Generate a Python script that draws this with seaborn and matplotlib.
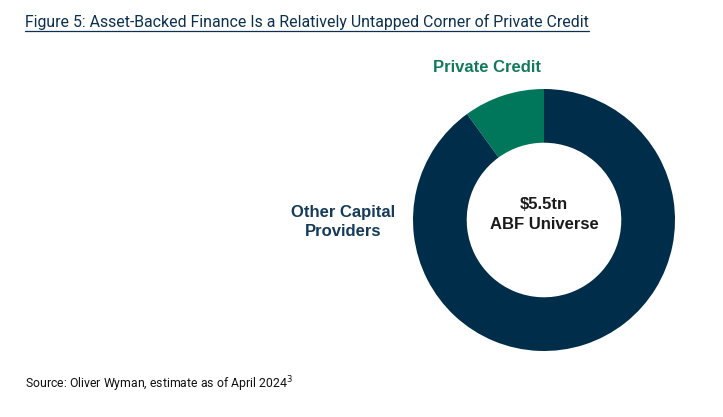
import matplotlib
matplotlib.use("Agg")
import matplotlib.pyplot as plt
import seaborn as sns
from matplotlib.lines import Line2D

# data
segments = ["Private Credit", "Other Capital\nProviders"]
shares = [10, 90]
seg_colors = ["#00765A", "#002D4A"]
label_colors = ["#127A5C", "#153A5A"]
center_text = "$5.5tn\nABF Universe"
title = "Figure 5: Asset-Backed Finance Is a Relatively Untapped Corner of Private Credit"
source = "Source: Oliver Wyman, estimate as of April 2024$^{3}$"

sns.set_theme(style="white")
plt.rcParams['font.family'] = ['Liberation Sans', 'DejaVu Sans']

W, H = 723, 417
fig = plt.figure(figsize=(W / 100, H / 100), dpi=100)
fig.patch.set_facecolor("white")

# donut centre (544, 220) px, outer radius 131 px
cx, cy, r = 544, 220, 131
ax = fig.add_axes([(cx - r) / W, (H - cy - r) / H, 2 * r / W, 2 * r / H])
wedges, _ = ax.pie(shares, colors=seg_colors, startangle=90, counterclock=True,
                   radius=1, wedgeprops=dict(width=0.41, edgecolor="none"))
ax.set_xlim(-1, 1)
ax.set_ylim(-1, 1)
ax.set_aspect("equal")
ax.axis("off")

ax.text(0, 0.04, center_text, ha="center", va="center", fontsize=12,
        fontweight="bold", color="#1A1A1A", linespacing=1.4)

# segment labels
fig.text(487 / W, 1 - 68 / H, segments[0], ha="center", va="center",
         fontsize=12, fontweight="bold", color=label_colors[0])
fig.text(343 / W, 1 - 222 / H, segments[1], ha="center", va="center",
         fontsize=12, fontweight="bold", color=label_colors[1], linespacing=1.35)

# title with underline
t = fig.text(25 / W, 1 - 22 / H, title, ha="left", va="center", fontsize=11.4,
             color="#0B3050", family=["Roboto", "DejaVu Sans"])
fig.canvas.draw()
bb = t.get_window_extent()
y_line = (bb.y0 - 1) / H
fig.add_artist(Line2D([bb.x0 / W, bb.x1 / W], [y_line, y_line], color="#0B3050",
                      linewidth=0.9, transform=fig.transFigure))

fig.text(25 / W, 1 - 384 / H, source, ha="left", va="center", fontsize=8.8,
         color="#111111", family=["Roboto", "DejaVu Sans"])

fig.savefig("out.png", dpi=100, facecolor="white")
